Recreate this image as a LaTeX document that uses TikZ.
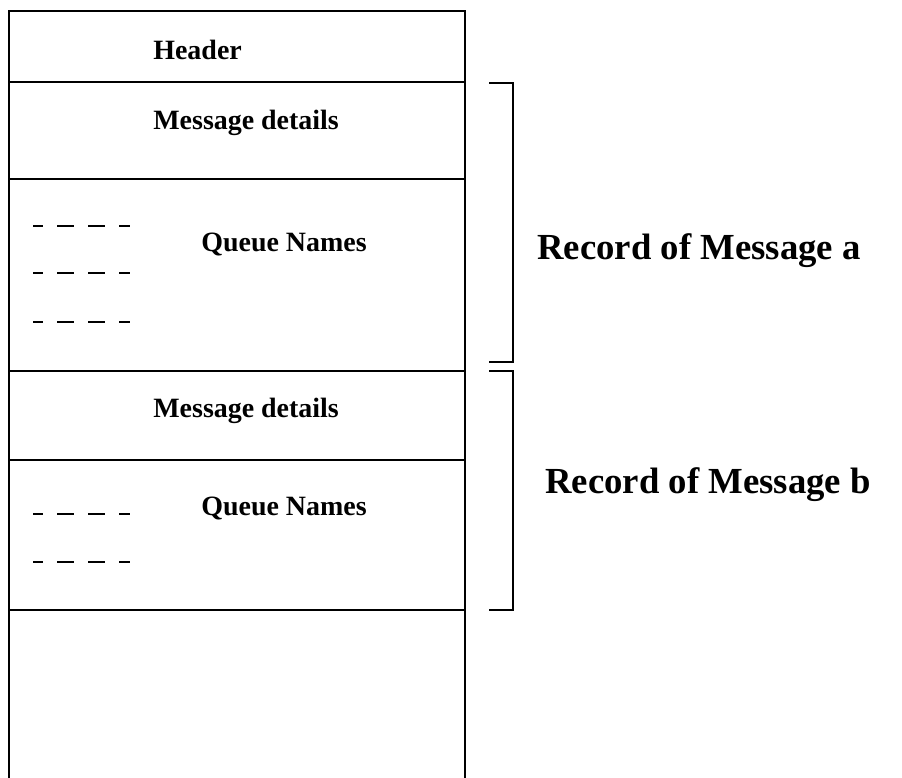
\documentclass[tikz,border=0pt]{standalone}
\usepackage{fontspec}
\setmainfont{Liberation Serif}
\usepackage{tikz}
\usetikzlibrary{positioning}
\tikzset{
  frame/.style={line width=1.35pt,black},
  lbl/.style={font=\bfseries\fontsize{15.9}{19}\selectfont,inner sep=0pt,anchor=base west},
  rec/.style={font=\bfseries\fontsize{20.9}{25}\selectfont,inner sep=0pt,anchor=base west},
  qdash/.style={line width=1.3pt,dash pattern=on 0.34cm off 0.28cm,dash phase=0.14cm}
}
\begin{document}
\begin{tikzpicture}
\useasboundingbox (0,0) rectangle (18.04,15.56);
% file layout column
\draw[frame] (0.18,0) -- (0.18,15.34) -- (9.3,15.34) -- (9.3,0);
\foreach \y in {13.92,11.98,8.14,6.36,3.36}
  \draw[frame] (0.18,\y) -- (9.3,\y);
\node[lbl] (hdr) at (3.06,14.36) {Header};
\node[lbl] (detA) at (3.06,12.96) {Message details};
\node[lbl] (qnA) at (4.02,10.52) {Queue Names};
\node[lbl] (detB) at (3.06,7.2) {Message details};
\node[lbl] (qnB) at (4.02,5.24) {Queue Names};
% queue name placeholders
\foreach \y in {11.04,10.1,9.12,5.28,4.32}
  \draw[qdash] (0.66,\y) -- (2.6,\y);
% brackets for each record
\coordinate (aTop) at (9.78,13.9);
\coordinate (aBot) at (9.78,8.32);
\coordinate (bTop) at (9.78,8.14);
\coordinate (bBot) at (9.78,3.36);
\draw[frame] (aTop) -- ++(0.48,0) |- (aBot);
\draw[frame] (bTop) -- ++(0.48,0) |- (bBot);
\node[rec] (recA) at (10.74,10.36) {Record of Message a};
\node[rec] (recB) at (10.9,5.68) {Record of Message b};
\end{tikzpicture}
\end{document}
